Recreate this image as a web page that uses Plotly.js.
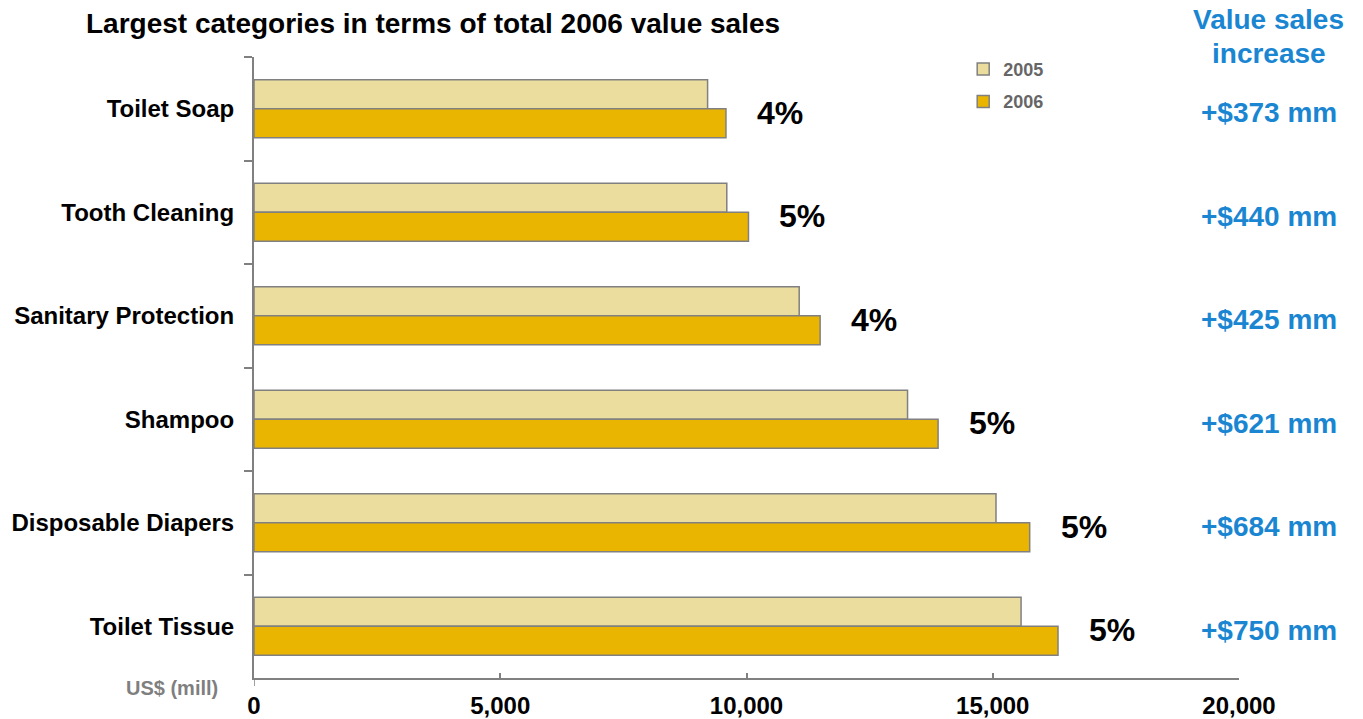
<!DOCTYPE html>
<html>
<head>
<meta charset="utf-8">
<script src="https://cdn.plot.ly/plotly-3.0.1.min.js"></script>
<style>
  html, body { margin: 0; padding: 0; background: #ffffff; }
  #chart { width: 1363px; height: 719px; }
</style>
</head>
<body>
<div id="chart"></div>
<script>
// ---- Data ----
var categories = ['Toilet Soap', 'Tooth Cleaning', 'Sanitary Protection', 'Shampoo', 'Disposable Diapers', 'Toilet Tissue'];
var sales2005 = [9210, 9600, 11070, 13270, 15066, 15575];
var sales2006 = [9583, 10040, 11495, 13890, 15750, 16325];
var growthLabels = ['4%', '5%', '4%', '5%', '5%', '5%'];
var increaseLabels = ['+$373 mm', '+$440 mm', '+$425 mm', '+$621 mm', '+$684 mm', '+$750 mm'];
var xTickValues = [0, 5000, 10000, 15000, 20000];
var xTickLabels = ['0', '5,000', '10,000', '15,000', '20,000'];
var seriesNames = ['2005', '2006'];

// ---- Styles ----
var FONT = '"Liberation Sans", Arial, Helvetica, sans-serif';
var BLUE = '#1a86d2';
var GRAY = '#808080';

var traces = [
  {
    type: 'bar', orientation: 'h', name: seriesNames[0], legendgroup: 'a',
    x: sales2005, y: categories,
    marker: { color: '#ebdd9e', line: { color: GRAY, width: 1.5 } },
    hoverinfo: 'x+y'
  },
  {
    type: 'bar', orientation: 'h', name: seriesNames[1], legendgroup: 'b',
    x: sales2006, y: categories,
    marker: { color: '#eab500', line: { color: GRAY, width: 1.5 } },
    hoverinfo: 'x+y'
  }
];

var annotations = [];
categories.forEach(function (c, i) {
  annotations.push({
    x: sales2006[i], y: c, xref: 'x', yref: 'y',
    text: growthLabels[i], showarrow: false,
    xanchor: 'left', yanchor: 'middle', xshift: 29, yshift: -4,
    font: { family: FONT, size: 32, color: '#000000', weight: 700 }
  });
  annotations.push({
    x: 1.03, xref: 'paper', y: c, yref: 'y',
    text: increaseLabels[i], showarrow: false,
    xanchor: 'center', yanchor: 'middle', yshift: -4,
    font: { family: FONT, size: 28, color: BLUE, weight: 700 }
  });
});
annotations.push({
  x: 1.03, xref: 'paper', y: 1.0596, yref: 'paper', text: 'Value sales',
  showarrow: false, xanchor: 'center', yanchor: 'middle',
  font: { family: FONT, size: 28, color: BLUE, weight: 700 }
});
annotations.push({
  x: 1.03, xref: 'paper', y: 1.0064, yref: 'paper', text: 'increase',
  showarrow: false, xanchor: 'center', yanchor: 'middle',
  font: { family: FONT, size: 28, color: BLUE, weight: 700 }
});
annotations.push({
  x: -0.0832, xref: 'paper', y: -0.0161, yref: 'paper', text: 'US$ (mill)',
  showarrow: false, xanchor: 'center', yanchor: 'middle',
  font: { family: FONT, size: 20, color: '#7f7f7f', weight: 700 }
});

var layout = {
  width: 1363, height: 719,
  margin: { l: 254, r: 124, t: 57, b: 41, pad: 0 },
  paper_bgcolor: '#ffffff', plot_bgcolor: '#ffffff',
  font: { family: FONT },
  title: {
    text: 'Largest categories in terms of total 2006 value sales',
    xref: 'container', yref: 'container',
    x: 86 / 1363, xanchor: 'left', y: 1 - 23 / 719, yanchor: 'middle',
    font: { family: FONT, size: 28, color: '#000000', weight: 700 }
  },
  barmode: 'group', bargap: 0.44, bargroupgap: 0,
  xaxis: {
    range: [0, 20000], tickvals: xTickValues, ticktext: xTickLabels,
    showgrid: false, zeroline: false, showline: true, linecolor: GRAY, linewidth: 1.5,
    ticks: 'inside', ticklen: 5, tickcolor: GRAY, tickwidth: 1.5,
    ticklabelstandoff: 5,
    tickfont: { family: FONT, size: 24, color: '#000000', weight: 700 },
    fixedrange: true
  },
  yaxis: {
    type: 'category', autorange: 'reversed',
    showgrid: false, zeroline: false, showline: true, linecolor: GRAY, linewidth: 2,
    ticks: 'outside', ticklen: 8, tickcolor: GRAY, tickwidth: 1.5, tickson: 'boundaries',
    ticklabelstandoff: 13,
    tickfont: { family: FONT, size: 24, color: '#000000', weight: 700 },
    fixedrange: true
  },
  showlegend: true,
  legend: {
    x: 0.72, xanchor: 'left', y: 1.01, yanchor: 'top',
    traceorder: 'grouped', tracegroupgap: 6,
    bgcolor: 'rgba(0,0,0,0)', borderwidth: 0,
    font: { family: FONT, size: 18, color: '#666666', weight: 700 }
  },
  shapes: [{
    type: 'line', xref: 'x', yref: 'paper', xsizemode: 'scaled', ysizemode: 'pixel',
    yanchor: 0, x0: 0, x1: 0, y0: 0, y1: -8,
    line: { color: GRAY, width: 1.5 }
  }],
  annotations: annotations
};

Plotly.newPlot('chart', traces, layout, { displayModeBar: false, staticPlot: false });
</script>
</body>
</html>
